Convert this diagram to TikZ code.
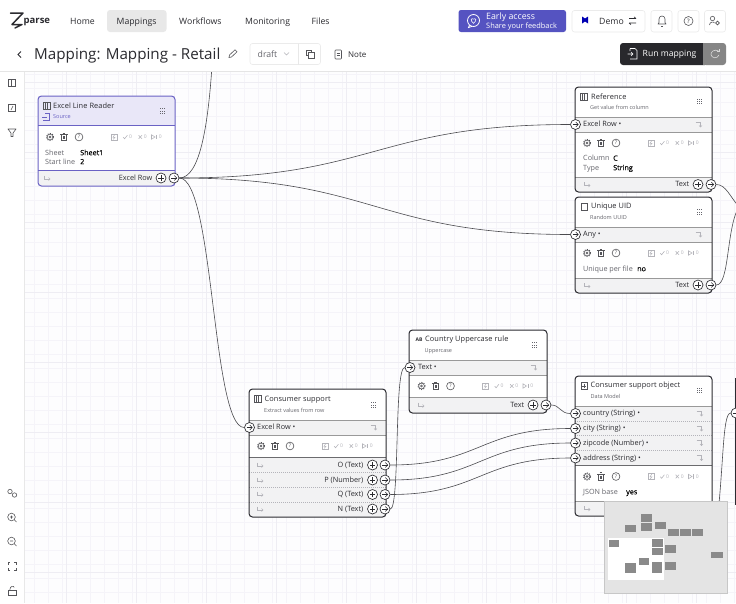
\documentclass[tikz,border=0pt]{standalone}
\usepackage{fontspec}
\setmainfont{Open Sans}
\usetikzlibrary{calc}
\pgfdeclarelayer{edges}
\pgfdeclarelayer{chrome}
\pgfsetlayers{edges,main,chrome}
\definecolor{ink}{HTML}{2B2B30}
\definecolor{inkmid}{HTML}{66666D}
\definecolor{faint}{HTML}{B4B4BA}
\definecolor{strip}{HTML}{F2F2F3}
\definecolor{pale}{HTML}{E9E7F8}
\definecolor{purple}{HTML}{6A62C4}
\definecolor{gridl}{HTML}{F5F4F9}
\definecolor{gridm}{HTML}{EEEDF3}
\definecolor{canvas}{HTML}{FDFDFE}
\definecolor{btnblue}{HTML}{5553C1}
\definecolor{mapbg}{HTML}{E4E4E4}
\definecolor{mapbox}{HTML}{8A8A8A}
\tikzset{
  x=1pt,y=-1pt,
  cardframe/.style={draw=#1,line width=1pt,rounded corners=3.5pt,fill=none,inner sep=0pt},
  port/.style={circle,draw=ink,fill=white,line width=.65pt,minimum size=10pt,inner sep=0pt},
  outport/.style={port,path picture={
     \draw[ink,line width=.5pt] ([xshift=-2.8pt]path picture bounding box.center) -- ([xshift=2.8pt]path picture bounding box.center);
     \draw[ink,line width=.5pt] ([xshift=.3pt,yshift=2.5pt]path picture bounding box.center) -- ([xshift=2.8pt]path picture bounding box.center) -- ([xshift=.3pt,yshift=-2.5pt]path picture bounding box.center);}},
  addport/.style={port,path picture={
     \draw[ink,line width=.5pt] ([xshift=-2.8pt]path picture bounding box.center) -- ([xshift=2.8pt]path picture bounding box.center);
     \draw[ink,line width=.5pt] ([yshift=-2.8pt]path picture bounding box.center) -- ([yshift=2.8pt]path picture bounding box.center);}},
  link/.style={draw=ink!85,line width=.6pt},
  ttl/.style={anchor=west,yshift=-.7pt,inner sep=0pt,text=ink,text height=5.4pt,text depth=1.6pt,font=\fontsize{7.4}{8}\selectfont\addfontfeatures{LetterSpace=1}},
  sub/.style={anchor=west,yshift=-1pt,inner sep=0pt,text=inkmid,text height=4pt,text depth=1.2pt,font=\fontsize{5.5}{6}\selectfont},
  rowl/.style={anchor=west,yshift=-.8pt,inner sep=0pt,text=ink,text height=5.3pt,text depth=1.5pt,font=\fontsize{7.3}{8}\selectfont},
  rowr/.style={anchor=east,yshift=-.8pt,inner sep=0pt,text=ink,text height=5.3pt,text depth=1.5pt,font=\fontsize{7.3}{8}\selectfont},
  kv/.style={anchor=west,yshift=-.8pt,inner sep=0pt,text=inkmid,text height=5.3pt,text depth=1.5pt,font=\fontsize{7.2}{8}\selectfont},
  val/.style={anchor=west,yshift=-.8pt,inner sep=0pt,text=black,text height=5.3pt,text depth=1.5pt,font=\fontsize{7.2}{8}\selectfont\addfontfeatures{FakeBold=0.2}},
  nav/.style={anchor=west,yshift=-.8pt,inner sep=0pt,text=ink,text height=6.3pt,text depth=1.9pt,font=\fontsize{8.7}{9}\selectfont},
  stat/.style={anchor=center,inner sep=0pt,text=faint,font=\fontsize{5}{6}\selectfont},
  icon/.style={draw=ink!80,line width=.6pt,fill=none},
  hbtn/.style={draw=black!8,fill=white,line width=.6pt,rounded corners=2.5pt},
}
\newcommand{\cardbg}[6]{%
  \fill[white,rounded corners=3.5pt] (#2,#3) rectangle (#4,#5);
}
\newcommand{\cardframe}[6]{%
  \node[cardframe=#6,minimum width={#4-#2},minimum height={#5-#3}] (#1) at ({(#2+#4)/2},{(#3+#5)/2}) {};
}
\newcommand{\band}[6]{%
  \begin{scope}
    \clip[rounded corners=3.5pt] (#1,#5) rectangle (#3,#6);
    \fill[strip] (#1,#2) rectangle (#3,#4);
  \end{scope}
  \draw[black!40,line width=.5pt] (#1,#2) -- (#3,#2);
  \draw[black!40,line width=.5pt] (#1,#4) -- (#3,#4);
}
\newcommand{\grip}[2]{\foreach \a in {-2,0,2}\foreach \b in {-2.4,0,2.4}\fill[inkmid] ({#1+\a-.45},{#2+\b-.45}) rectangle ++(.9,.9);}
\newcommand{\panelicon}[2]{%
  \draw[icon] (#1,{#2-3.4}) rectangle ({#1+7},{#2+3.4});
  \draw[ink!80,line width=.55pt] ({#1+2.4},{#2-3.4}) -- ({#1+2.4},{#2+3.4}) ({#1+4.6},{#2-3.4}) -- ({#1+4.6},{#2+3.4});
}
\newcommand{\bentin}[2]{%
  \draw[faint,line width=.55pt] ({#1-3.5},{#2-2.5}) -- ({#1+1.5},{#2-2.5}) -- ({#1+1.5},{#2+2.5});
  \draw[faint,line width=.55pt] ({#1},{#2+1}) -- ({#1+1.5},{#2+2.5}) -- ({#1+3},{#2+1});
}
\newcommand{\bentout}[2]{%
  \draw[faint,line width=.55pt] ({#1-3},{#2-2.5}) -- ({#1-3},{#2+1}) -- ({#1+3},{#2+1});
  \draw[faint,line width=.55pt] ({#1+1.5},{#2-.5}) -- ({#1+3},{#2+1}) -- ({#1+1.5},{#2+2.5});
}
\newcommand{\toolrow}[2]{%
  \begin{scope}[shift={(#1,#2)}]
    \draw[ink!80,line width=.55pt] (12,0) circle (2.9pt);
    \draw[ink!80,line width=.5pt] (12,0) circle (1pt);
    \draw[ink!80,line width=.9pt,dash pattern=on 1pt off 1.3pt] (12,0) circle (3.6pt);
    \draw[icon] (23.4,-2) -- (23.4,3.6) -- (28.6,3.6) -- (28.6,-2);
    \draw[icon] (22.4,-2.4) -- (29.6,-2.4) (24.6,-3.8) -- (27.4,-3.8);
    \draw[ink!80,line width=.45pt] (25.3,-.6) -- (25.3,2) (26.7,-.6) -- (26.7,2);
    \draw[icon] (41,0) circle (3.9pt);
    \node[inner sep=0pt,text=ink!80,font=\fontsize{5.2}{5}\selectfont] at (41,0) {?};
    \draw[faint,line width=.55pt] (73,-3) rectangle (79,3);
    \draw[faint,line width=.5pt] (76.7,-2.4) -- (75,.3) -- (77,.3) -- (75.2,2.4);
    \draw[faint,line width=.55pt] (85.2,.2) -- (86.6,1.8) -- (89.4,-1.8);
    \node[stat] at (92.6,0) {0};
    \draw[faint,line width=.55pt] (100.6,-1.8) -- (104,1.8) (104,-1.8) -- (100.6,1.8);
    \node[stat] at (107.4,0) {0};
    \draw[faint,line width=.55pt] (113.5,-2.2) -- (113.5,2.2) -- (117,0) -- cycle;
    \draw[faint,line width=.55pt] (118.6,-2.2) -- (118.6,2.2);
    \node[stat] at (122.2,0) {0};
  \end{scope}
}
\begin{document}
\begin{tikzpicture}
\useasboundingbox (0,0) rectangle (736,603);
\begin{pgfonlayer}{edges}
  \fill[canvas] (0,0) rectangle (736,603);
  \foreach \gx in {34,48,...,736} \draw[gridl,line width=.35pt] (\gx,72) -- (\gx,603);
  \foreach \gy in {74,88,...,603} \draw[gridl,line width=.35pt] (24,\gy) -- (736,\gy);
  \foreach \gx in {66,136,...,736} \draw[gridm,line width=.5pt] (\gx,72) -- (\gx,603);
  \foreach \gy in {82,152,...,603} \draw[gridm,line width=.5pt] (24,\gy) -- (736,\gy);
\end{pgfonlayer}

% ---- Excel Line Reader
\cardbg{a}{38}{96}{175}{186}{purple}
\begin{scope}
  \clip[rounded corners=3.5pt] (38,96) rectangle (175,186);
  \fill[pale] (38,96) rectangle (175,125);
  \fill[strip] (38,170) rectangle (175,186);
\end{scope}
\draw[purple,line width=.5pt] (38,125) -- (175,125);
\draw[purple,line width=.6pt] (38,170) -- (175,170);
\cardframe{reader}{38}{96}{175}{186}{purple}
\panelicon{43}{106}
\node[ttl] (readert) at (53,106) {Excel Line Reader};
\draw[purple,line width=.55pt] (45,113.5) -- (49.5,113.5) -- (49.5,120) -- (42.5,120);
\draw[purple,line width=.55pt] (42,116.8) -- (47,116.8);
\node[sub,text=purple] (readers) at (53,116) {Source};
\grip{162}{111}
\toolrow{38}{137}
\node[kv] (r1) at (45,152.5) {Sheet};
\node[val] (r2) at (80,152.5) {Sheet1};
\node[kv] (r3) at (45,161.5) {Start line};
\node[val] (r4) at (80,161.5) {2};
\bentout{47}{178}
\node[rowr] (r5) at (152.5,178) {Excel Row};
\node[addport] (readerplus) at (161,178) {};
\node[outport] (readerout) at (174,178) {};

% ---- Reference
\cardbg{b}{575}{87}{712}{192}{ink}
\band{575}{117}{712}{132}{87}{192}
\begin{scope}
  \clip[rounded corners=3.5pt] (575,87) rectangle (712,192);
  \fill[strip] (575,177) rectangle (712,192);
\end{scope}
\draw[black!40,line width=.5pt] (575,177) -- (712,177);
\cardframe{refcard}{575}{87}{712}{192}{ink}
\panelicon{580}{96.5}
\node[ttl] (reft) at (591,96.5) {Reference};
\node[sub] (refs) at (590,107) {Get value from column};
\grip{699}{101.5}
\node[outport] (refin) at (575.5,124.5) {};
\node[rowl] (ref1) at (583,124) {Excel Row \textbullet};
\bentin{699}{124.5}
\toolrow{575}{143}
\node[kv] (ref2) at (583,158) {Column};
\node[val] (ref3) at (613,158) {C};
\node[kv] (ref4) at (583,167.5) {Type};
\node[val] (ref5) at (613,167.5) {String};
\bentout{587}{184.5}
\node[rowr] (ref6) at (689.5,183.5) {Text};
\node[addport] (refplus) at (698,184.5) {};
\node[outport] (refout) at (711,184.5) {};

% ---- Unique UID
\cardbg{c}{575}{197}{712}{293}{ink}
\band{575}{227}{712}{242}{197}{293}
\begin{scope}
  \clip[rounded corners=3.5pt] (575,197) rectangle (712,293);
  \fill[strip] (575,278) rectangle (712,293);
\end{scope}
\draw[black!40,line width=.5pt] (575,278) -- (712,278);
\cardframe{uidcard}{575}{197}{712}{293}{ink}
\draw[ink!80,line width=.6pt] (581,203.5) rectangle (587.5,210);
\node[ttl] (uidt) at (591,206) {Unique UID};
\node[sub] (uids) at (590,217.5) {Random UUID};
\grip{699}{212}
\node[outport] (uidin) at (575.5,234.5) {};
\node[rowl] (uid1) at (583,234) {Any \textbullet};
\bentin{699}{234.5}
\toolrow{575}{253}
\node[kv] (uid2) at (583,268.5) {Unique per file};
\node[val] (uid3) at (637,268.5) {no};
\bentout{587}{285.5}
\node[rowr] (uid4) at (689.5,284.5) {Text};
\node[addport] (uidplus) at (698,285) {};
\node[outport] (uidout) at (711,285) {};

% ---- Country Uppercase rule
\cardbg{d}{409}{330}{547}{413}{ink}
\band{409}{360}{547}{375}{330}{413}
\begin{scope}
  \clip[rounded corners=3.5pt] (409,330) rectangle (547,413);
  \fill[strip] (409,397) rectangle (547,413);
\end{scope}
\draw[black!40,line width=.5pt] (409,397) -- (547,397);
\cardframe{uppercard}{409}{330}{547}{413}{ink}
\node[inner sep=0pt,text=ink,font=\fontsize{5}{6}\selectfont\bfseries] (upab) at (419,339.5) {AB};
\node[ttl] (uppert) at (425,339) {Country Uppercase rule};
\node[sub] (uppers) at (424.5,350) {Uppercase};
\grip{534}{345}
\node[outport] (upperin) at (410,367.5) {};
\node[rowl] (upper1) at (418,367) {Text \textbullet};
\bentin{534}{367.5}
\toolrow{409.5}{386}
\bentout{421}{405}
\node[rowr] (upper2) at (524.5,404.5) {Text};
\node[addport] (upperplus) at (533,405) {};
\node[outport] (upperout) at (546,405) {};

% ---- Consumer support
\cardbg{e}{249}{389}{386}{517}{ink}
\band{249}{420}{386}{435}{389}{517}
\begin{scope}
  \clip[rounded corners=3.5pt] (249,389) rectangle (386,517);
  \fill[strip] (249,457) rectangle (386,517);
\end{scope}
\draw[ink!70,line width=.6pt] (249,457) -- (386,457);
\draw[faint,line width=.4pt,dash pattern=on 1pt off 1pt] (249,472) -- (386,472) (249,487) -- (386,487) (249,502) -- (386,502);
\cardframe{supportcard}{249}{389}{386}{517}{ink}
\panelicon{254}{399}
\node[ttl] (supt) at (264.5,398.5) {Consumer support};
\node[sub] (sups) at (264,410) {Extract values from row};
\grip{373}{405}
\node[outport] (supin) at (249.5,427.5) {};
\node[rowl] (sup1) at (257,427) {Excel Row \textbullet};
\bentin{374}{427.5}
\toolrow{249}{446}
\bentout{260}{465}
\bentout{260}{480}
\bentout{260}{494}
\bentout{260}{509}
\node[rowr] (supO) at (363.5,464.6) {O (Text)};
\node[rowr] (supP) at (363.5,479.6) {P (Number)};
\node[rowr] (supQ) at (363.5,494.1) {Q (Text)};
\node[rowr] (supN) at (363.5,508.6) {N (Text)};
\node[addport] (plusO) at (372.5,465) {};
\node[addport] (plusP) at (372.5,480) {};
\node[addport] (plusQ) at (372.5,494.5) {};
\node[addport] (plusN) at (372.5,509) {};
\node[outport] (outO) at (385,465) {};
\node[outport] (outP) at (385,480) {};
\node[outport] (outQ) at (385,494.5) {};
\node[outport] (outN) at (385,509) {};

% ---- Consumer support object
\cardbg{f}{575}{376}{712}{516}{ink}
\begin{scope}
  \clip[rounded corners=3.5pt] (575,376) rectangle (712,516);
  \fill[strip] (575,406) rectangle (712,465);
  \fill[strip] (575,501) rectangle (712,516);
\end{scope}
\draw[black!40,line width=.5pt] (575,406) -- (712,406) (575,501) -- (712,501);
\draw[ink!70,line width=.5pt] (575,465) -- (712,465);
\draw[faint,line width=.4pt,dash pattern=on 1pt off 1pt] (575,421) -- (712,421) (575,435.5) -- (712,435.5) (575,450) -- (712,450);
\cardframe{objectcard}{575}{376}{712}{516}{ink}
\draw[ink!80,line width=.6pt] (581,382.5) rectangle (587.5,389);
\draw[ink!80,line width=.5pt] (584.2,383.8) -- (584.2,387.7) (582.3,385.8) -- (586.2,385.8);
\node[ttl] (objt) at (590.5,385) {Consumer support object};
\node[sub] (objs) at (590.5,396) {Data Model};
\grip{699.5}{390.5}
\node[outport] (incountry) at (575.5,413.5) {};
\node[outport] (incity) at (575.5,428.5) {};
\node[outport] (inzip) at (575.5,443) {};
\node[outport] (inaddr) at (575.5,458) {};
\node[rowl] (obj1) at (583,413) {country (String) \textbullet};
\node[rowl] (obj2) at (583,428) {city (String) \textbullet};
\node[rowl] (obj3) at (583,442.5) {zipcode (Number) \textbullet};
\node[rowl] (obj4) at (583,457.5) {address (String) \textbullet};
\bentin{700}{413.5}
\bentin{700}{428.5}
\bentin{700}{443}
\bentin{700}{458}
\toolrow{575}{476.5}
\node[kv] (obj5) at (583,491.6) {JSON base};
\node[val] (obj6) at (626,491.6) {yes};
\bentout{587}{508.5}

% ---- card cut off on the right edge
\node[draw=ink,line width=1pt,inner sep=0pt,minimum width=40pt,minimum height=126pt] (nextcard) at (755,441) {};
\node[outport] (nextin) at (736,413) {};

% ---- connectors
\coordinate (topend) at (212,66);
\coordinate (rightend) at (740,208);
\coordinate (rightendb) at (740,205);
\coordinate (mapend) at (716,530);
\begin{pgfonlayer}{edges}
  \draw[link] (readerout.east) .. controls (375,178) and (375,124.5) .. (refin.west);
  \draw[link] (readerout.east) .. controls (375,178) and (375,234.5) .. (uidin.west);
  \draw[link] (readerout.east) .. controls (214,178) and (212,427.5) .. (supin.west);
  \draw[link] (readerout.east) .. controls (200,178) and (208,125) .. (topend);
  \draw[link] (refout.east) .. controls (726,184.5) and (730,197) .. (rightend);
  \draw[link] (uidout.east) .. controls (730,285) and (726,225) .. (rightendb);
  \draw[link] (outO.east) .. controls (480,465) and (480,428.5) .. (incity.west);
  \draw[link] (outP.east) .. controls (480,480) and (480,443) .. (inzip.west);
  \draw[link] (outQ.east) .. controls (480,494.5) and (480,458) .. (inaddr.west);
  \draw[link] (outN.east) .. controls (400,509) and (394,367.5) .. (upperin.west);
  \draw[link] (upperout.east) .. controls (560,405) and (560,413.5) .. (incountry.west);
  \draw[link] (nextin.west) .. controls (722,413) and (724,470) .. (mapend);
\end{pgfonlayer}

% ---- chrome and minimap
\begin{pgfonlayer}{chrome}
  \fill[mapbg] (604,501) rectangle (727,593);
  \draw[black!22,line width=.5pt] (604,501) rectangle (727,593);
  \fill[white] (608,538) rectangle (664,580);
  \foreach \xa/\ya/\xb/\yb in {641/514/652/522,641/523/652/531,655/522/666/529,625/525/636/532,668/529/679/536,680/529/691/536,692/529/703/536,609/540/619/547,652/539/663/547,652/548/663/555,665/545/676/553,711/552/723/558,639/558/649/565,625/563/636/573,652/562/662/573,665/562/676/570}
    \fill[mapbox] (\xa,\ya) rectangle (\xb,\yb);
  % sidebar
  \fill[white] (0,72) rectangle (24,603);
  \draw[black!9,line width=.6pt] (24,72) -- (24,603);
  \draw[icon] (8.5,79.5) rectangle (15.5,86.5) (11,79.5) -- (11,86.5);
  \draw[icon] (8.5,104.5) rectangle (15.5,111.5) (13,106) -- (11,110);
  \draw[icon,line join=round] (8,129) -- (16,129) -- (13,133) -- (13,136.5) -- (11,136.5) -- (11,133) -- cycle;
  \draw[icon] (10,491.5) circle (2.2pt) (14.5,495) circle (2.2pt);
  \draw[icon] (11.5,517) circle (3.8pt) (14.5,520) -- (16.5,522) (10,517) -- (13,517) (11.5,515.5) -- (11.5,518.5);
  \draw[icon] (11.5,541) circle (3.8pt) (14.5,544) -- (16.5,546) (10,541) -- (13,541);
  \draw[icon] (8,564.5) -- (8,562.5) -- (10,562.5) (14,562.5) -- (16,562.5) -- (16,564.5) (16,568) -- (16,570) -- (14,570) (10,570) -- (8,570) -- (8,568);
  \draw[icon] (8,590) rectangle (16,595);
  \draw[icon] (9.8,590) .. controls (9.8,585.5) and (14.2,585.5) .. (14.2,587.5);
  % header
  \fill[white] (0,0) rectangle (736,71.5);
  \draw[black!10,line width=.6pt] (0,71.5) -- (736,71.5);
  \draw[ink,line width=1.5pt,line join=round,line cap=round] (10.5,13) -- (23,13) -- (12,24.5) -- (22,24.5) -- (15,28);
  \node[inner sep=0pt,anchor=west,text=ink,text height=6.9pt,text depth=2pt,font=\fontsize{9.5}{10}\selectfont\bfseries] (logo) at (23.5,21.5) {parse};
  \node[nav] (navhome) at (70,21) {Home};
  \fill[black!9,rounded corners=3pt] (107,10) rectangle (166.5,32);
  \node[nav] (navmap) at (116.5,21) {Mappings};
  \node[nav] (navwork) at (179,21) {Workflows};
  \node[nav] (navmon) at (245,21) {Monitoring};
  \node[nav] (navfile) at (311.5,21) {Files};
  \draw[ink,line width=.8pt] (21,51.5) -- (18,54.5) -- (21,57.5);
  \node[inner sep=0pt,anchor=west,yshift=-1.3pt,text=ink,text height=11pt,text depth=3.2pt,font=\fontsize{15.2}{18}\selectfont] (title) at (34,54) {Mapping: Mapping - Retail};
  \draw[icon] (229,57.5) -- (229.5,55) -- (235,49.8) -- (237,51.8) -- (231.5,57) -- cycle;
  \draw[hbtn] (250,43.5) rectangle (320.5,64.5);
  \draw[black!9,line width=.6pt] (298,43.5) -- (298,64.5);
  \node[nav,text=inkmid] (draftl) at (257.5,54) {draft};
  \draw[faint,line width=.6pt] (284,52.5) -- (286.5,55) -- (289,52.5);
  \draw[icon] (306,50) rectangle (311.5,55.5);
  \draw[icon,fill=white] (308.5,52.5) rectangle (314,58);
  \draw[icon,rounded corners=.8pt] (335,50) rectangle (341.5,59);
  \draw[ink!80,line width=.5pt] (336.7,53) -- (339.8,53) (336.7,55.5) -- (339.8,55.5);
  \node[nav,font=\fontsize{8}{9}\selectfont] (notel) at (348,54) {Note};
  \fill[btnblue,rounded corners=2.5pt] (458.5,10) rectangle (566,32);
  \draw[white,line width=.8pt] (473.5,20.5) circle (6pt);
  \draw[white,line width=.8pt] (469.5,25) -- (468.5,27.5) -- (472,26.4);
  \draw[white,line width=.55pt] (473.5,23.4) .. controls (469.5,20) and (471.5,17.5) .. (473.5,19.2) .. controls (475.5,17.5) and (477.5,20) .. (473.5,23.4);
  \node[inner sep=0pt,anchor=west,yshift=-.6pt,text=white,text height=6.3pt,text depth=1.9pt,font=\fontsize{8.8}{9}\selectfont] (ea1) at (486,16.5) {Early access};
  \node[inner sep=0pt,anchor=west,yshift=-.3pt,text=white,text height=5.3pt,text depth=1.6pt,font=\fontsize{7.4}{8}\selectfont] (ea2) at (486,26) {Share your feedback};
  \draw[hbtn] (572,10.5) rectangle (645,32);
  \fill[blue!70!black] (582,16.5) -- (585,18.5) -- (588,16.5) -- (588,23.5) -- (585,21.5) -- (582,23.5) -- cycle;
  \node[nav] (demol) at (599,21) {Demo};
  \draw[ink,line width=.6pt] (629,18.5) -- (636,18.5) (634,16.8) -- (636,18.5) (629,23) -- (636,23) (631,24.7) -- (629,23);
  \draw[hbtn] (651,10.5) rectangle (672,32);
  \draw[icon,line join=round] (658,24) -- (659,22.5) -- (659,19) .. controls (659,15) and (665,15) .. (665,19) -- (665,22.5) -- (666,24) -- cycle;
  \draw[icon] (661,26) -- (663,26);
  \draw[hbtn] (678,10.5) rectangle (699,32);
  \draw[icon] (688.5,21) circle (4.5pt);
  \node[inner sep=0pt,text=ink,font=\fontsize{6}{6}\selectfont] (helpq) at (688.5,21) {?};
  \draw[hbtn] (704.5,10.5) rectangle (725.5,32);
  \draw[icon] (712.5,18.5) circle (2.2pt);
  \draw[icon] (709.5,25) .. controls (709.5,21.5) and (714,21.5) .. (714.5,23);
  \draw[icon] (717.5,23) circle (1.9pt);
  \fill[ink!92!black,rounded corners=3pt] (620,43) rectangle (708,65);
  \fill[black!48,rounded corners=3pt] (703,43) rectangle (726,65);
  \fill[black!48] (703,43) rectangle (710,65);
  \draw[white,line width=.6pt] (630,48.5) -- (635,48.5) -- (637,50.5) -- (637,59) -- (630,59) (630,48.5) -- (630,51) (627.5,54) -- (633,54) (631,52) -- (633,54) -- (631,56);
  \node[inner sep=0pt,anchor=west,yshift=-.6pt,text=white,text height=6.2pt,text depth=1.9pt,font=\fontsize{8.6}{9}\selectfont] (runl) at (642.5,54) {Run mapping};
  \draw[white!85!black,line width=.6pt] (718.5,51) .. controls (714.5,48.5) and (710.5,52) .. (711,54.5) .. controls (711.5,58.5) and (717.5,59) .. (719,55);
  \draw[white!85!black,line width=.6pt] (719,49) -- (719,51.5) -- (716.5,51.5);
\end{pgfonlayer}
\end{tikzpicture}
\end{document}
